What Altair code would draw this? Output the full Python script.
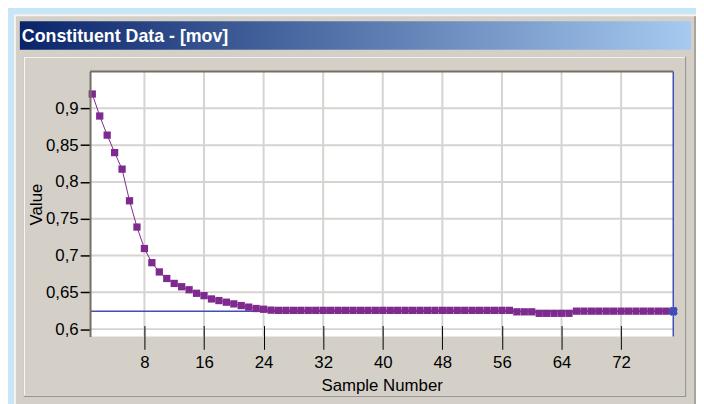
import subprocess
import altair as alt
import pandas as pd

# ---------------- data ----------------
samples = list(range(1, 80))
values = [
    0.9195, 0.8896, 0.8636, 0.8399, 0.8174, 0.7744, 0.7387, 0.7095, 0.6903, 0.6777,
    0.6688, 0.6621, 0.6576, 0.6535, 0.6487, 0.6455, 0.6410, 0.6388, 0.6366, 0.6343,
    0.6320, 0.6299, 0.6280, 0.6270, 0.6258, 0.6255, 0.6255, 0.6255, 0.6255, 0.6255,
    0.6255, 0.6255, 0.6255, 0.6255, 0.6255, 0.6255, 0.6255, 0.6255, 0.6255, 0.6255,
    0.6255, 0.6255, 0.6255, 0.6255, 0.6255, 0.6255, 0.6255, 0.6255, 0.6255, 0.6255,
    0.6255, 0.6255, 0.6255, 0.6255, 0.6255, 0.6255, 0.6255, 0.6235, 0.6235, 0.6235,
    0.6215, 0.6215, 0.6215, 0.6215, 0.6215, 0.6244, 0.6244, 0.6244, 0.6244, 0.6244,
    0.6244, 0.6244, 0.6244, 0.6244, 0.6244, 0.6244, 0.6244, 0.6244, 0.6244,
]
x_ticks = [8, 16, 24, 32, 40, 48, 56, 64, 72]
y_ticks = [0.6, 0.65, 0.7, 0.75, 0.8, 0.85, 0.9]
ref_value = [0.6242]
cursor_sample = [79]
window_title = "Constituent Data - [mov]"
x_title = "Sample Number"
y_title = "Value"

# ---------------- fonts ----------------
try:
    fams = subprocess.run(["fc-list", ":", "family"], capture_output=True, text=True).stdout
except Exception:
    fams = ""
if "Liberation Sans Narrow" in fams:
    AX_FONT, AX_SIZE, TI_SIZE = "Liberation Sans Narrow", 20, 20
else:
    AX_FONT, AX_SIZE, TI_SIZE = "Liberation Sans", 17, 17

W, H = 590, 268
PURPLE = "#7f2a8e"
BLUE = "#3e4fb8"

df = pd.DataFrame({"sample": samples, "value": values})
one = pd.DataFrame({"k": [0]})

x_scale = alt.Scale(domain=[0.7, 79], nice=False, zero=False)
y_scale = alt.Scale(domain=[0.59, 0.95], nice=False, zero=False)

x_axis = alt.Axis(
    values=x_ticks, grid=False, domain=False, ticks=True, tickSize=24,
    tickColor="black", tickWidth=1, offset=-11, labelFont=AX_FONT,
    labelFontSize=AX_SIZE, labelColor="black", labelPadding=5,
    title=x_title, titleFont=AX_FONT, titleFontSize=TI_SIZE,
    titleFontWeight="normal", titleColor="black", titleX=W / 2, titleY=66,
    titleBaseline="alphabetic", titleAlign="center", zindex=2)
y_axis = alt.Axis(
    values=y_ticks, grid=False, domain=True, domainColor="#746e64",
    domainWidth=2, ticks=True, tickSize=10, tickColor="black", tickWidth=1.5,
    labelFont=AX_FONT, labelFontSize=AX_SIZE, labelColor="black",
    labelPadding=2, labelExpr="replace(format(datum.value, '.2~f'), '.', ',')",
    title=y_title, titleFont=AX_FONT, titleFontSize=TI_SIZE,
    titleFontWeight="normal", titleColor="black", titleAngle=270,
    titleX=-54, titleY=H / 2, titleBaseline="middle", titleAlign="center",
    zindex=2)


def X(field):
    return alt.X(field, type="quantitative", scale=x_scale, axis=x_axis)


def Y(field):
    return alt.Y(field, type="quantitative", scale=y_scale, axis=y_axis)


def box(x1, x2, y1, y2, color):
    return alt.Chart(one).mark_rect(color=color, opacity=1).encode(
        x=alt.value(x1), x2=alt.value(x2), y=alt.value(y1), y2=alt.value(y2))


# window chrome
chrome = [
    box(-77, 620, -58, 340, "#f4f3ee"),
    box(-75, 620, -56, 340, "#d4d0c8"),
    box(611, 620, -56, 340, "#a9a59c"),
    box(-67, 603, -15, 329, "#808080"),
    box(-67, 602, -15, 328, "#ffffff"),
    box(-66, 602, -14, 328, "#d4d0c8"),
]
gradient = alt.LinearGradient(
    gradient="linear",
    stops=[alt.GradientStop(color="#0a246a", offset=0),
           alt.GradientStop(color="#a6caf0", offset=1)],
    x1=0, x2=1, y1=0, y2=0)
titlebar = alt.Chart(one).mark_rect(color=gradient).encode(
    x=alt.value(-71), x2=alt.value(608), y=alt.value(-51), y2=alt.value(-22))
title_text = alt.Chart(one).mark_text(
    text=window_title, color="white", font="Liberation Sans", fontWeight="bold",
    fontSize=18, align="left", baseline="alphabetic").encode(
    x=alt.value(-69), y=alt.value(-30))

plot_bg = box(0, W, 0, H, "#ffffff")

grid_x = alt.Chart(pd.DataFrame({"sample": x_ticks})).mark_rule(
    color="#d6d3d0", strokeWidth=2).encode(x=X("sample"))
grid_y = alt.Chart(pd.DataFrame({"value": y_ticks})).mark_rule(
    color="#d6d3d0", strokeWidth=2).encode(y=Y("value"))

top_border = alt.Chart(one).mark_rule(color="#746e64", strokeWidth=2).encode(
    x=alt.value(0), x2=alt.value(W), y=alt.value(0))

ref_line = alt.Chart(pd.DataFrame({"value": ref_value})).mark_rule(
    color=BLUE, strokeWidth=1.5).encode(y=Y("value"))
cursor = alt.Chart(pd.DataFrame({"sample": cursor_sample})).mark_rule(
    color=BLUE, strokeWidth=1.5).encode(x=X("sample"))

base = alt.Chart(df).encode(x=X("sample"), y=Y("value"))
line = base.mark_line(color=PURPLE, strokeWidth=1)
pts = base.mark_point(shape="square", filled=True, size=54, color=PURPLE, opacity=1)

marker_df = pd.DataFrame({"sample": cursor_sample, "value": ref_value})
marker_x = alt.Chart(marker_df).mark_point(
    shape="cross", angle=45, filled=True, size=90, color=BLUE, opacity=1).encode(
    x=X("sample"), y=Y("value"))
marker_plus = alt.Chart(marker_df).mark_point(
    shape="cross", filled=True, size=60, color=BLUE, opacity=1).encode(
    x=X("sample"), y=Y("value"))

chart = alt.layer(
    *chrome, titlebar, title_text, plot_bg, grid_x, grid_y, ref_line,
    line, pts, cursor, marker_x, marker_plus, top_border,
).properties(
    width=W, height=H,
    padding={"left": 83, "top": 62, "right": 23, "bottom": 66},
    autosize=alt.AutoSizeParams(type="none"),
    background="#c8e6f8",
).configure_view(stroke=None)

chart.save("out.html", embed_options={"renderer": "svg", "actions": False})
